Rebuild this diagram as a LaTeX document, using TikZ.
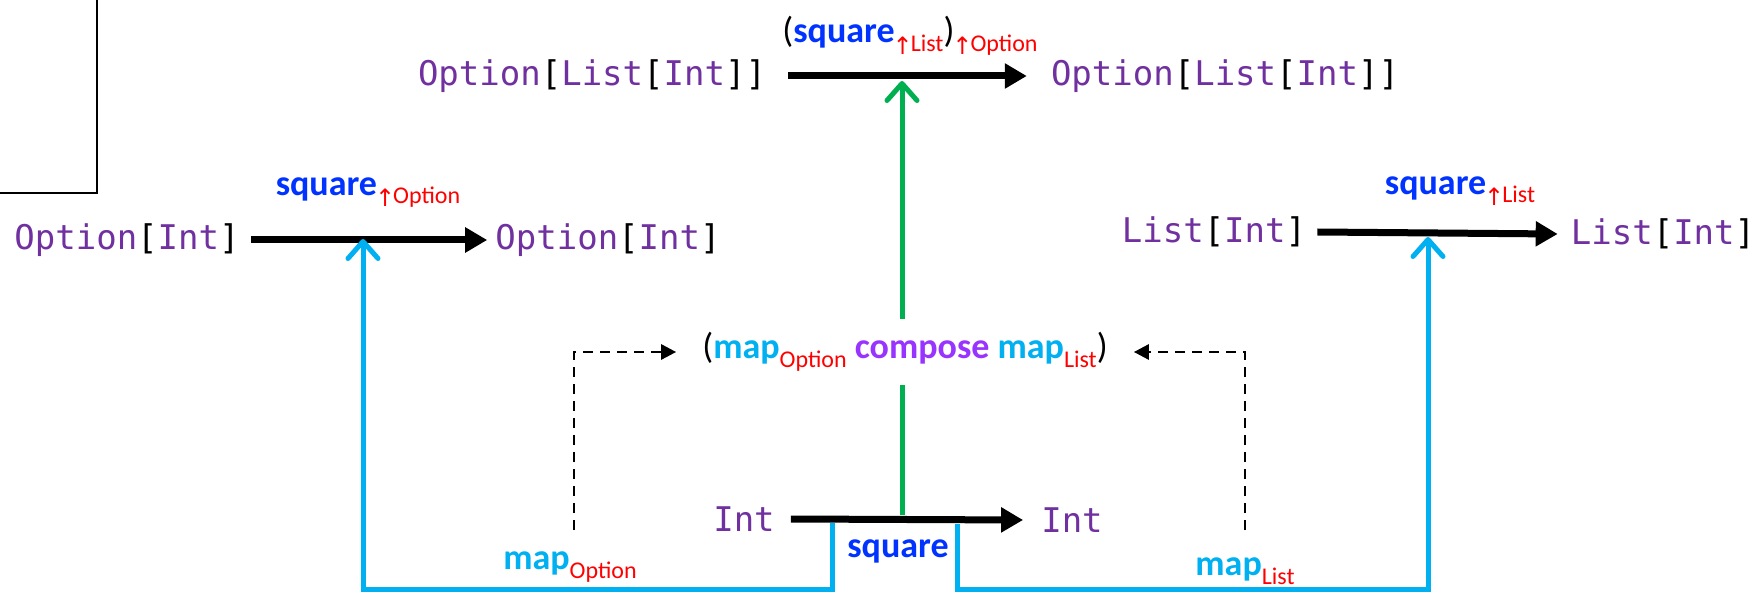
\documentclass[tikz,border=0pt]{standalone}
\usepackage{fontspec}
\setmainfont{Carlito}
\newfontfamily\monof{DejaVu Sans Mono}
\newfontfamily\arrf{DejaVu Sans}
\usetikzlibrary{arrows.meta}
\definecolor{tpurple}{RGB}{112,48,160}
\definecolor{lblue}{RGB}{0,176,240}
\definecolor{sqblue}{RGB}{0,51,255}
\definecolor{cpurple}{RGB}{153,51,255}
\definecolor{grn}{RGB}{0,176,80}
\newcommand\tp[1]{\textcolor{tpurple}{#1}}
\newcommand\lsub[2][-8pt]{\raisebox{#1}{\fontsize{24}{28}\selectfont\mdseries\color{red}#2}}
\newcommand\upa{\raisebox{-3pt}{\arrf\fontsize{24}{28}\selectfont\hspace{-2pt}↑\hspace{-2pt}}}
\tikzset{
  ty/.style={font=\monof\fontsize{34}{40}\selectfont, inner sep=0pt, text=black},
  lab/.style={font=\fontsize{36}{42}\selectfont\bfseries, inner sep=0pt},
  bk/.style={line width=7pt, -{Triangle[length=22pt,width=24pt]}},
  bl/.style={draw=lblue, line width=5pt, -{Straight Barb[length=17pt,width=30pt,round]}},
  gl/.style={draw=grn, line width=5pt, -{Straight Barb[length=17pt,width=30pt,round]}},
  dsh/.style={line width=2.8pt, dash pattern=on 10pt off 7pt, -{Triangle[length=15pt,width=15pt]}}
}
\begin{document}
\begin{tikzpicture}[x=1pt,y=-1pt]
\useasboundingbox (0,0) rectangle (1762,593);
% partial frame top-left
\draw[line width=1.6pt] (97,0) -- (97,193) -- (0,193);

% top row
\node[ty] (oli1) at (592,76) {\tp{Option}[\tp{List}[\tp{Int}]]};
\node[ty] (oli2) at (1225,76) {\tp{Option}[\tp{List}[\tp{Int}]]};
\draw[bk] ([xshift=22pt]oli1.east) -- ([xshift=-24pt]oli2.west);
\node[lab] (toplab) at (910,36) {{\mdseries(}\textcolor{sqblue}{square}\lsub[-9pt]{\upa List}{\mdseries)}\lsub[-9pt]{\upa Option}};

% left row
\node[ty] (oi1) at (127,240) {\tp{Option}[\tp{Int}]};
\node[ty] (oi2) at (608,240) {\tp{Option}[\tp{Int}]};
\draw[bk] ([xshift=11pt]oi1.east) -- ([xshift=-8pt]oi2.west);
\node[lab] (sqo) at (368,193) {\textcolor{sqblue}{square}\lsub[-8pt]{\upa Option}};

% right row
\node[ty] (li1) at (1214,232) {\tp{List}[\tp{Int}]};
\node[ty] (li2) at (1663,234) {\tp{List}[\tp{Int}]};
\draw[bk] ([xshift=11pt]li1.east) -- ([xshift=-13pt]li2.west);
\node[lab] (sql) at (1460,191) {\textcolor{sqblue}{square}\lsub[-8pt]{\upa List}};

% bottom row
\node[ty] (i1) at (744,519) {\tp{Int}};
\node[ty] (i2) at (1072,520) {\tp{Int}};
\draw[bk] ([xshift=16pt]i1.east) -- ([xshift=-18pt]i2.west);
\node[lab] (sqb) at (898,551) {\textcolor{sqblue}{square}};
\node[lab] (mo) at (570,567) {\textcolor{lblue}{map}\lsub[-9pt]{Option}};
\node[lab] (ml) at (1245,571) {\textcolor{lblue}{map}\lsub[-9pt]{List}};

% blue connectors
\coordinate (bs1) at (832,523);
\coordinate (bt1) at (363,239);
\coordinate (bs2) at (957,524);
\coordinate (bt2) at (1428,237);
\draw[bl] (bs1) -- (832,589) -- (363,589) -- (bt1);
\draw[bl] (bs2) -- (957,589) -- (1428,589) -- (bt2);

% green connector
\coordinate (gs) at (902,515);
\coordinate (gt) at (902,81);
\draw[gl] (gs) -- (gt);

% compose node
\node[lab, fill=white, inner sep=13pt] (cmp) at (905,352) {{\mdseries(}\textcolor{lblue}{map}\lsub[-9pt]{Option} \textcolor{cpurple}{compose} \textcolor{lblue}{map}\lsub[-9pt]{List}{\mdseries)}};

% dashed connectors
\coordinate (dl) at (574,530);
\coordinate (dr) at (1245,530);
\draw[dsh] (dl) |- ([xshift=-13pt]cmp.west);
\draw[dsh] (dr) |- ([xshift=13pt]cmp.east);
\end{tikzpicture}
\end{document}
